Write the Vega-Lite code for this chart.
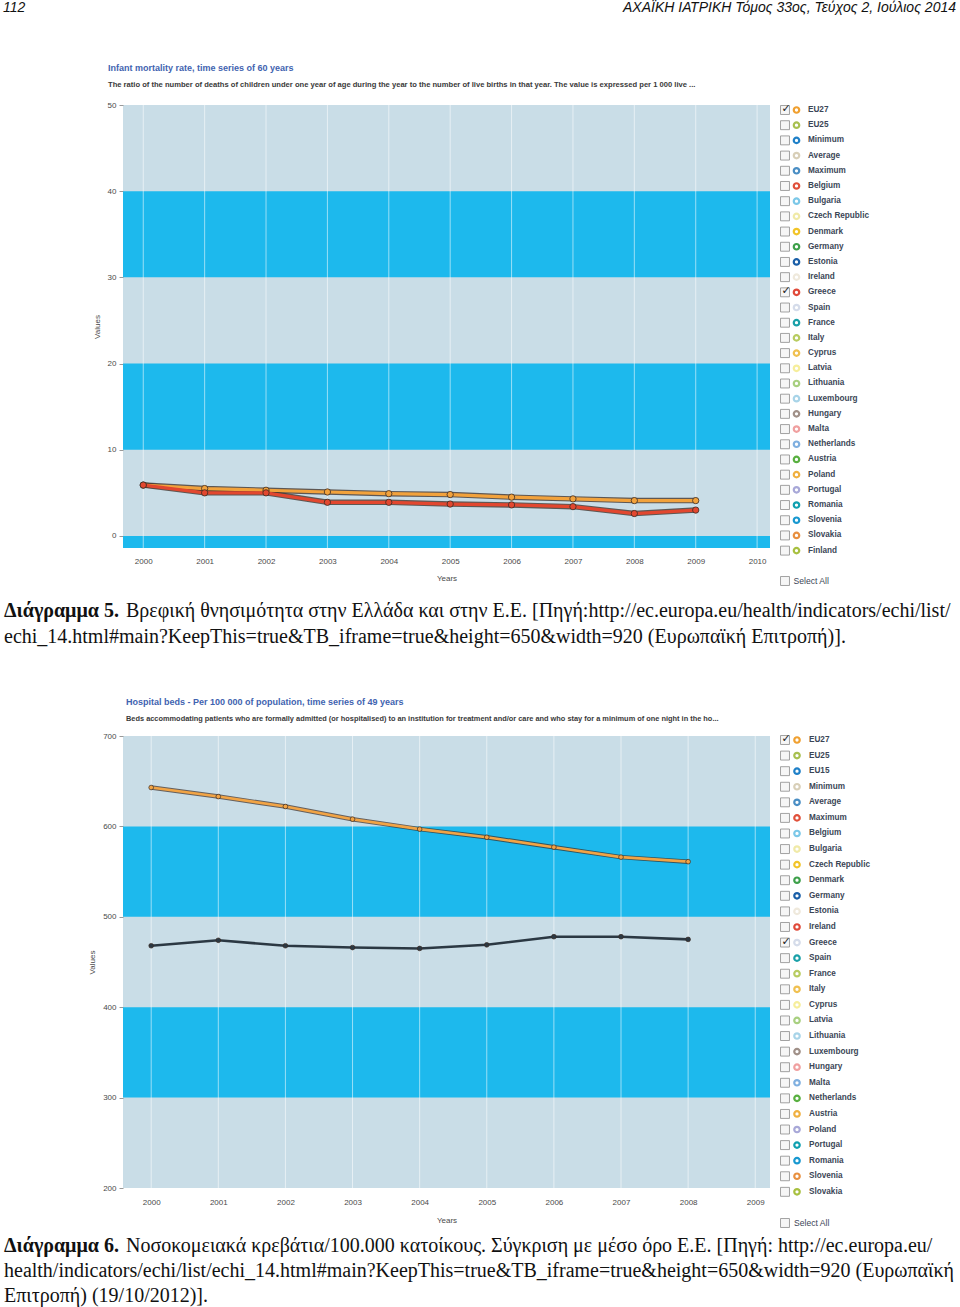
{
  "$schema": "https://vega.github.io/schema/vega-lite/v6.json",
  "padding": 0,
  "autosize": {"type": "pad"},
  "background": "#ffffff",
  "columns": 3,
  "align": "each",
  "bounds": "flush",
  "spacing": 0,
  "config": {
    "view": {"stroke": null},
    "font": "Liberation Sans",
    "axis": {"grid": false, "domain": false, "labelFontSize": 8, "labelColor": "#4a4a4a", "titleFontSize": 8, "titleColor": "#4a4a4a", "titleFontWeight": "normal"},
    "axisX": {"ticks": false, "labelPadding": 9, "titlePadding": 9},
    "axisY": {"ticks": true, "tickSize": 4, "tickColor": "#999999", "labelPadding": 3, "titlePadding": 6}
  },
  "resolve": {"scale": {"color": "independent", "stroke": "independent"}},
  "concat": [
    {
      "width": 123, "height": 105,
      "data": {"values": [{"text": "112"}]},
      "mark": {"type": "text", "align": "left", "baseline": "middle", "dx": 3, "font": "Liberation Sans", "fontSize": 14, "fontStyle": "italic", "color": "#111111"},
      "encoding": {
        "x": {"datum": 0, "type": "quantitative", "scale": {"domain": [0, 1], "nice": false, "zero": false}, "axis": null},
        "y": {"datum": 8, "type": "quantitative", "scale": {"domain": [105, 0], "nice": false, "zero": false}, "axis": null},
        "text": {"field": "text"}
      }
    },
    {"width": 647, "height": 105, "data": {"values": []}, "mark": "point"},
    {
      "width": 188, "height": 105,
      "data": {"values": [{"text": "ΑΧΑΪΚΗ ΙΑΤΡΙΚΗ Τόμος 33ος, Τεύχος 2, Ιούλιος 2014"}]},
      "mark": {"type": "text", "align": "right", "baseline": "middle", "dx": -2, "font": "Liberation Sans", "fontSize": 14, "fontStyle": "italic", "color": "#111111"},
      "encoding": {
        "x": {"datum": 1, "type": "quantitative", "scale": {"domain": [0, 1], "nice": false, "zero": false}, "axis": null},
        "y": {"datum": 8, "type": "quantitative", "scale": {"domain": [105, 0], "nice": false, "zero": false}, "axis": null},
        "text": {"field": "text"}
      }
    },

    {"width": 123, "height": 443, "data": {"values": []}, "mark": "point"},
    {
      "width": 647, "height": 443,
      "view": {"fill": "#c9dde7", "stroke": null},
      "title": {
        "text": "Infant mortality rate, time series of 60 years",
        "subtitle": "The ratio of the number of deaths of children under one year of age during the year to the number of live births in that year. The value is expressed per 1 000 live ...",
        "anchor": "start", "frame": "group", "dx": -15, "offset": 12,
        "font": "Liberation Sans", "fontSize": 9, "fontWeight": "bold", "color": "#3f63b0",
        "subtitleFont": "Liberation Sans", "subtitleFontSize": 7.6, "subtitleFontWeight": "bold", "subtitleColor": "#3a3a3a", "subtitlePadding": 8
      },
      "data": {"values": [
        {"year": 2000, "series": "EU27", "value": 5.9},
        {"year": 2001, "series": "EU27", "value": 5.5},
        {"year": 2002, "series": "EU27", "value": 5.3},
        {"year": 2003, "series": "EU27", "value": 5.1},
        {"year": 2004, "series": "EU27", "value": 4.9},
        {"year": 2005, "series": "EU27", "value": 4.8},
        {"year": 2006, "series": "EU27", "value": 4.5},
        {"year": 2007, "series": "EU27", "value": 4.3},
        {"year": 2008, "series": "EU27", "value": 4.1},
        {"year": 2009, "series": "EU27", "value": 4.1},
        {"year": 2000, "series": "Greece", "value": 5.9},
        {"year": 2001, "series": "Greece", "value": 5.0},
        {"year": 2002, "series": "Greece", "value": 5.0},
        {"year": 2003, "series": "Greece", "value": 3.9},
        {"year": 2004, "series": "Greece", "value": 3.9},
        {"year": 2005, "series": "Greece", "value": 3.7},
        {"year": 2006, "series": "Greece", "value": 3.6},
        {"year": 2007, "series": "Greece", "value": 3.4},
        {"year": 2008, "series": "Greece", "value": 2.6},
        {"year": 2009, "series": "Greece", "value": 3.0}
      ]},
      "layer": [
        {
          "data": {"values": [{"from": -10, "to": 0}, {"from": 10, "to": 20}, {"from": 30, "to": 40}]},
          "mark": {"type": "rect", "color": "#1db9ed", "clip": true},
          "encoding": {
            "y": {"field": "from", "type": "quantitative", "scale": {"domain": [-1.4, 50], "nice": false, "zero": false}, "axis": {"values": [0, 10, 20, 30, 40, 50], "title": "Values"}},
            "y2": {"field": "to"}
          }
        },
        {
          "data": {"values": [{"year": 2000}, {"year": 2001}, {"year": 2002}, {"year": 2003}, {"year": 2004}, {"year": 2005}, {"year": 2006}, {"year": 2007}, {"year": 2008}, {"year": 2009}, {"year": 2010}]},
          "mark": {"type": "rule", "color": "#ffffff", "opacity": 0.55, "strokeWidth": 1},
          "encoding": {
            "x": {"field": "year", "type": "quantitative", "scale": {"domain": [1999.67, 2010.21], "nice": false, "zero": false}, "axis": {"values": [2000, 2001, 2002, 2003, 2004, 2005, 2006, 2007, 2008, 2009, 2010], "format": "d", "title": "Years"}}
          }
        },
        {
          "mark": {"type": "line", "strokeWidth": 5.5, "color": "#3a2a22", "opacity": 0.75},
          "encoding": {
            "x": {"field": "year", "type": "quantitative", "scale": {"domain": [1999.67, 2010.21], "nice": false, "zero": false}, "axis": {"values": [2000, 2001, 2002, 2003, 2004, 2005, 2006, 2007, 2008, 2009, 2010], "format": "d", "title": "Years"}},
            "y": {"field": "value", "type": "quantitative", "scale": {"domain": [-1.4, 50], "nice": false, "zero": false}, "axis": {"values": [0, 10, 20, 30, 40, 50], "title": "Values"}},
            "detail": {"field": "series"}
          }
        },
        {
          "mark": {"type": "line", "strokeWidth": 3.2},
          "encoding": {
            "x": {"field": "year", "type": "quantitative", "scale": {"domain": [1999.67, 2010.21], "nice": false, "zero": false}, "axis": {"values": [2000, 2001, 2002, 2003, 2004, 2005, 2006, 2007, 2008, 2009, 2010], "format": "d", "title": "Years"}},
            "y": {"field": "value", "type": "quantitative", "scale": {"domain": [-1.4, 50], "nice": false, "zero": false}, "axis": {"values": [0, 10, 20, 30, 40, 50], "title": "Values"}},
            "color": {"field": "series", "type": "nominal", "scale": {"domain": ["EU27", "Greece"], "range": ["#f2a23c", "#e2472f"]}, "legend": null}
          }
        },
        {
          "mark": {"type": "point", "filled": true, "size": 40, "stroke": "#3a2a22", "strokeWidth": 0.8, "opacity": 1},
          "encoding": {
            "x": {"field": "year", "type": "quantitative", "scale": {"domain": [1999.67, 2010.21], "nice": false, "zero": false}, "axis": {"values": [2000, 2001, 2002, 2003, 2004, 2005, 2006, 2007, 2008, 2009, 2010], "format": "d", "title": "Years"}},
            "y": {"field": "value", "type": "quantitative", "scale": {"domain": [-1.4, 50], "nice": false, "zero": false}, "axis": {"values": [0, 10, 20, 30, 40, 50], "title": "Values"}},
            "color": {"field": "series", "type": "nominal", "scale": {"domain": ["EU27", "Greece"], "range": ["#f2a23c", "#e2472f"]}, "legend": null}
          }
        }
      ]
    },
    {
      "width": 188, "height": 443,
      "data": {"values": [
        {"name": "EU27", "checked": true}, {"name": "EU25", "checked": false}, {"name": "Minimum", "checked": false},
        {"name": "Average", "checked": false}, {"name": "Maximum", "checked": false}, {"name": "Belgium", "checked": false},
        {"name": "Bulgaria", "checked": false}, {"name": "Czech Republic", "checked": false}, {"name": "Denmark", "checked": false},
        {"name": "Germany", "checked": false}, {"name": "Estonia", "checked": false}, {"name": "Ireland", "checked": false},
        {"name": "Greece", "checked": true}, {"name": "Spain", "checked": false}, {"name": "France", "checked": false},
        {"name": "Italy", "checked": false}, {"name": "Cyprus", "checked": false}, {"name": "Latvia", "checked": false},
        {"name": "Lithuania", "checked": false}, {"name": "Luxembourg", "checked": false}, {"name": "Hungary", "checked": false},
        {"name": "Malta", "checked": false}, {"name": "Netherlands", "checked": false}, {"name": "Austria", "checked": false},
        {"name": "Poland", "checked": false}, {"name": "Portugal", "checked": false}, {"name": "Romania", "checked": false},
        {"name": "Slovenia", "checked": false}, {"name": "Slovakia", "checked": false}, {"name": "Finland", "checked": false},
        {"name": "Select All", "checked": false}
      ]},
      "encoding": {
        "y": {"field": "name", "type": "nominal", "scale": {"type": "point", "padding": 0, "range": [5, 476],
          "domain": ["EU27", "EU25", "Minimum", "Average", "Maximum", "Belgium", "Bulgaria", "Czech Republic", "Denmark", "Germany", "Estonia", "Ireland", "Greece", "Spain", "France", "Italy", "Cyprus", "Latvia", "Lithuania", "Luxembourg", "Hungary", "Malta", "Netherlands", "Austria", "Poland", "Portugal", "Romania", "Slovenia", "Slovakia", "Finland", "_gap", "Select All"]}, "axis": null}
      },
      "layer": [
        {
          "mark": {"type": "point", "shape": "square", "size": 80, "filled": true, "fill": "#f6f6f6", "stroke": "#8c8c8c", "strokeWidth": 0.8, "opacity": 1},
          "encoding": {"x": {"datum": "box", "type": "nominal", "scale": {"type": "point", "domain": ["box", "dot", "label"], "range": [15, 38], "padding": 0}, "axis": null}}
        },
        {
          "transform": [{"filter": "datum.checked"}],
          "mark": {"type": "text", "text": "✓", "font": "DejaVu Sans", "fontSize": 11, "fontWeight": "bold", "color": "#222222", "dx": 1, "dy": -1},
          "encoding": {"x": {"datum": "box", "type": "nominal", "scale": {"type": "point", "domain": ["box", "dot", "label"], "range": [15, 38], "padding": 0}, "axis": null}}
        },
        {
          "transform": [{"filter": "datum.name !== 'Select All'"}],
          "mark": {"type": "point", "shape": "circle", "size": 30, "filled": false, "fill": "#ffffff", "strokeWidth": 2.2, "opacity": 1},
          "encoding": {
            "x": {"datum": "dot", "type": "nominal", "scale": {"type": "point", "domain": ["box", "dot", "label"], "range": [15, 38], "padding": 0}, "axis": null},
            "stroke": {"field": "name", "type": "nominal", "legend": null, "scale": {
              "domain": ["EU27", "EU25", "Minimum", "Average", "Maximum", "Belgium", "Bulgaria", "Czech Republic", "Denmark", "Germany", "Estonia", "Ireland", "Greece", "Spain", "France", "Italy", "Cyprus", "Latvia", "Lithuania", "Luxembourg", "Hungary", "Malta", "Netherlands", "Austria", "Poland", "Portugal", "Romania", "Slovenia", "Slovakia", "Finland"],
              "range": ["#f0a030", "#a8c050", "#1f80c8", "#d8cfb8", "#4a8ec4", "#e0503a", "#7cc8e8", "#f0eaa8", "#f2c428", "#3da04a", "#1a5fa8", "#efe9dc", "#e04a3a", "#d5dcea", "#1aa0a8", "#b8cc60", "#f0c050", "#f6ee9c", "#a8d080", "#a8d4e8", "#a09088", "#f0a0a0", "#80b0e0", "#58b040", "#f0b040", "#a8a8d8", "#10a0b0", "#1898d0", "#e89040", "#a8c040"]}}
          }
        },
        {
          "transform": [{"filter": "datum.name !== 'Select All'"}],
          "mark": {"type": "text", "align": "left", "baseline": "middle", "font": "Liberation Sans", "fontSize": 8.2, "fontWeight": "bold", "color": "#3b4656"},
          "encoding": {
            "x": {"datum": "label", "type": "nominal", "scale": {"type": "point", "domain": ["box", "dot", "label"], "range": [15, 38], "padding": 0}, "axis": null},
            "text": {"field": "name"}
          }
        },
        {
          "transform": [{"filter": "datum.name === 'Select All'"}],
          "mark": {"type": "text", "align": "left", "baseline": "middle", "dx": -3, "font": "Liberation Sans", "fontSize": 8.6, "color": "#3b4656"},
          "encoding": {
            "x": {"datum": "dot", "type": "nominal", "scale": {"type": "point", "domain": ["box", "dot", "label"], "range": [15, 38], "padding": 0}, "axis": null},
            "text": {"field": "name"}
          }
        }
      ]
    },

    {
      "width": 123, "height": 188,
      "data": {"values": [
        {"line": "1", "bold": "Διάγραμμα 5.", "text": "Βρεφική θνησιμότητα στην Ελλάδα και στην Ε.Ε. [Πηγή:http://ec.europa.eu/health/indicators/echi/list/"},
        {"line": "2", "bold": "", "text": "echi_14.html#main?KeepThis=true&TB_iframe=true&height=650&width=920 (Ευρωπαϊκή Επιτροπή)]."}
      ]},
      "encoding": {
        "x": {"datum": 0, "type": "quantitative", "scale": {"domain": [0, 1], "nice": false, "zero": false}, "axis": null},
        "y": {"field": "line", "type": "ordinal", "scale": {"type": "point", "domain": ["1", "2"], "range": [63, 89], "padding": 0}, "axis": null}
      },
      "layer": [
        {"transform": [{"filter": "datum.bold !== ''"}], "mark": {"type": "text", "align": "left", "baseline": "middle", "dx": 4, "font": "Liberation Serif", "fontSize": 20, "fontWeight": "bold", "color": "#111111"}, "encoding": {"text": {"field": "bold"}}},
        {"transform": [{"filter": "datum.bold !== ''"}], "mark": {"type": "text", "align": "left", "baseline": "middle", "dx": 126, "font": "Liberation Serif", "fontSize": 20, "color": "#111111"}, "encoding": {"text": {"field": "text"}}},
        {"transform": [{"filter": "datum.bold === ''"}], "mark": {"type": "text", "align": "left", "baseline": "middle", "dx": 4, "font": "Liberation Serif", "fontSize": 20, "color": "#111111"}, "encoding": {"text": {"field": "text"}}}
      ]
    },
    {"width": 647, "height": 188, "data": {"values": []}, "mark": "point"},
    {"width": 188, "height": 188, "data": {"values": []}, "mark": "point"},

    {"width": 123, "height": 452, "data": {"values": []}, "mark": "point"},
    {
      "width": 647, "height": 452,
      "view": {"fill": "#c9dde7", "stroke": null},
      "title": {
        "text": "Hospital beds - Per 100 000 of population, time series of 49 years",
        "subtitle": "Beds accommodating patients who are formally admitted (or hospitalised) to an institution for treatment and/or care and who stay for a minimum of one night in the ho...",
        "anchor": "start", "frame": "group", "dx": 3, "offset": 10,
        "font": "Liberation Sans", "fontSize": 9, "fontWeight": "bold", "color": "#3f63b0",
        "subtitleFont": "Liberation Sans", "subtitleFontSize": 7.4, "subtitleFontWeight": "bold", "subtitleColor": "#3a3a3a", "subtitlePadding": 8
      },
      "data": {"values": [
        {"year": 2000, "series": "EU27", "value": 643},
        {"year": 2001, "series": "EU27", "value": 633},
        {"year": 2002, "series": "EU27", "value": 622},
        {"year": 2003, "series": "EU27", "value": 608},
        {"year": 2004, "series": "EU27", "value": 597},
        {"year": 2005, "series": "EU27", "value": 588},
        {"year": 2006, "series": "EU27", "value": 577},
        {"year": 2007, "series": "EU27", "value": 566},
        {"year": 2008, "series": "EU27", "value": 561},
        {"year": 2000, "series": "Greece", "value": 468},
        {"year": 2001, "series": "Greece", "value": 474},
        {"year": 2002, "series": "Greece", "value": 468},
        {"year": 2003, "series": "Greece", "value": 466},
        {"year": 2004, "series": "Greece", "value": 465},
        {"year": 2005, "series": "Greece", "value": 469},
        {"year": 2006, "series": "Greece", "value": 478},
        {"year": 2007, "series": "Greece", "value": 478},
        {"year": 2008, "series": "Greece", "value": 475}
      ]},
      "layer": [
        {
          "data": {"values": [{"from": 300, "to": 400}, {"from": 500, "to": 600}]},
          "mark": {"type": "rect", "color": "#1db9ed", "clip": true},
          "encoding": {
            "y": {"field": "from", "type": "quantitative", "scale": {"domain": [200, 700], "nice": false, "zero": false}, "axis": {"values": [200, 300, 400, 500, 600, 700], "title": "Values"}},
            "y2": {"field": "to"}
          }
        },
        {
          "data": {"values": [{"year": 2000}, {"year": 2001}, {"year": 2002}, {"year": 2003}, {"year": 2004}, {"year": 2005}, {"year": 2006}, {"year": 2007}, {"year": 2008}, {"year": 2009}]},
          "mark": {"type": "rule", "color": "#ffffff", "opacity": 0.55, "strokeWidth": 1},
          "encoding": {
            "x": {"field": "year", "type": "quantitative", "scale": {"domain": [1999.58, 2009.22], "nice": false, "zero": false}, "axis": {"values": [2000, 2001, 2002, 2003, 2004, 2005, 2006, 2007, 2008, 2009], "format": "d", "title": "Years", "labelPadding": 10, "titlePadding": 10}}
          }
        },
        {
          "transform": [{"filter": "datum.series === 'EU27'"}],
          "mark": {"type": "line", "strokeWidth": 4.5, "color": "#3a2a22", "opacity": 0.7},
          "encoding": {
            "x": {"field": "year", "type": "quantitative", "scale": {"domain": [1999.58, 2009.22], "nice": false, "zero": false}, "axis": {"values": [2000, 2001, 2002, 2003, 2004, 2005, 2006, 2007, 2008, 2009], "format": "d", "title": "Years", "labelPadding": 10, "titlePadding": 10}},
            "y": {"field": "value", "type": "quantitative", "scale": {"domain": [200, 700], "nice": false, "zero": false}, "axis": {"values": [200, 300, 400, 500, 600, 700], "title": "Values"}}
          }
        },
        {
          "mark": {"type": "line", "strokeWidth": 2.6},
          "encoding": {
            "x": {"field": "year", "type": "quantitative", "scale": {"domain": [1999.58, 2009.22], "nice": false, "zero": false}, "axis": {"values": [2000, 2001, 2002, 2003, 2004, 2005, 2006, 2007, 2008, 2009], "format": "d", "title": "Years", "labelPadding": 10, "titlePadding": 10}},
            "y": {"field": "value", "type": "quantitative", "scale": {"domain": [200, 700], "nice": false, "zero": false}, "axis": {"values": [200, 300, 400, 500, 600, 700], "title": "Values"}},
            "color": {"field": "series", "type": "nominal", "scale": {"domain": ["EU27", "Greece"], "range": ["#f2a445", "#2b3843"]}, "legend": null}
          }
        },
        {
          "mark": {"type": "point", "filled": true, "size": 22, "stroke": "#3a2a22", "strokeWidth": 0.7, "opacity": 1},
          "encoding": {
            "x": {"field": "year", "type": "quantitative", "scale": {"domain": [1999.58, 2009.22], "nice": false, "zero": false}, "axis": {"values": [2000, 2001, 2002, 2003, 2004, 2005, 2006, 2007, 2008, 2009], "format": "d", "title": "Years", "labelPadding": 10, "titlePadding": 10}},
            "y": {"field": "value", "type": "quantitative", "scale": {"domain": [200, 700], "nice": false, "zero": false}, "axis": {"values": [200, 300, 400, 500, 600, 700], "title": "Values"}},
            "color": {"field": "series", "type": "nominal", "scale": {"domain": ["EU27", "Greece"], "range": ["#f2a445", "#2b3843"]}, "legend": null}
          }
        }
      ]
    },
    {
      "width": 188, "height": 452,
      "data": {"values": [
        {"name": "EU27", "checked": true}, {"name": "EU25", "checked": false}, {"name": "EU15", "checked": false},
        {"name": "Minimum", "checked": false}, {"name": "Average", "checked": false}, {"name": "Maximum", "checked": false},
        {"name": "Belgium", "checked": false}, {"name": "Bulgaria", "checked": false}, {"name": "Czech Republic", "checked": false},
        {"name": "Denmark", "checked": false}, {"name": "Germany", "checked": false}, {"name": "Estonia", "checked": false},
        {"name": "Ireland", "checked": false}, {"name": "Greece", "checked": true}, {"name": "Spain", "checked": false},
        {"name": "France", "checked": false}, {"name": "Italy", "checked": false}, {"name": "Cyprus", "checked": false},
        {"name": "Latvia", "checked": false}, {"name": "Lithuania", "checked": false}, {"name": "Luxembourg", "checked": false},
        {"name": "Hungary", "checked": false}, {"name": "Malta", "checked": false}, {"name": "Netherlands", "checked": false},
        {"name": "Austria", "checked": false}, {"name": "Poland", "checked": false}, {"name": "Portugal", "checked": false},
        {"name": "Romania", "checked": false}, {"name": "Slovenia", "checked": false}, {"name": "Slovakia", "checked": false},
        {"name": "Select All", "checked": false}
      ]},
      "encoding": {
        "y": {"field": "name", "type": "nominal", "scale": {"type": "point", "padding": 0, "range": [4, 487],
          "domain": ["EU27", "EU25", "EU15", "Minimum", "Average", "Maximum", "Belgium", "Bulgaria", "Czech Republic", "Denmark", "Germany", "Estonia", "Ireland", "Greece", "Spain", "France", "Italy", "Cyprus", "Latvia", "Lithuania", "Luxembourg", "Hungary", "Malta", "Netherlands", "Austria", "Poland", "Portugal", "Romania", "Slovenia", "Slovakia", "_gap", "Select All"]}, "axis": null}
      },
      "layer": [
        {
          "mark": {"type": "point", "shape": "square", "size": 80, "filled": true, "fill": "#f6f6f6", "stroke": "#8c8c8c", "strokeWidth": 0.8, "opacity": 1},
          "encoding": {"x": {"datum": "box", "type": "nominal", "scale": {"type": "point", "domain": ["box", "dot", "label"], "range": [15, 39], "padding": 0}, "axis": null}}
        },
        {
          "transform": [{"filter": "datum.checked"}],
          "mark": {"type": "text", "text": "✓", "font": "DejaVu Sans", "fontSize": 11, "fontWeight": "bold", "color": "#222222", "dx": 1, "dy": -1},
          "encoding": {"x": {"datum": "box", "type": "nominal", "scale": {"type": "point", "domain": ["box", "dot", "label"], "range": [15, 39], "padding": 0}, "axis": null}}
        },
        {
          "transform": [{"filter": "datum.name !== 'Select All'"}],
          "mark": {"type": "point", "shape": "circle", "size": 30, "filled": false, "fill": "#ffffff", "strokeWidth": 2.2, "opacity": 1},
          "encoding": {
            "x": {"datum": "dot", "type": "nominal", "scale": {"type": "point", "domain": ["box", "dot", "label"], "range": [15, 39], "padding": 0}, "axis": null},
            "stroke": {"field": "name", "type": "nominal", "legend": null, "scale": {
              "domain": ["EU27", "EU25", "EU15", "Minimum", "Average", "Maximum", "Belgium", "Bulgaria", "Czech Republic", "Denmark", "Germany", "Estonia", "Ireland", "Greece", "Spain", "France", "Italy", "Cyprus", "Latvia", "Lithuania", "Luxembourg", "Hungary", "Malta", "Netherlands", "Austria", "Poland", "Portugal", "Romania", "Slovenia", "Slovakia"],
              "range": ["#f0a030", "#a8c050", "#1f80c8", "#d8cfb8", "#4a8ec4", "#e0503a", "#7cc8e8", "#f0eaa8", "#f2c428", "#3da04a", "#1a5fa8", "#efe9dc", "#e04a3a", "#d5dcea", "#1aa0a8", "#b8cc60", "#f0c050", "#f6ee9c", "#a8d080", "#a8d4e8", "#a09088", "#f0a0a0", "#80b0e0", "#58b040", "#f0b040", "#a8a8d8", "#10a0b0", "#1898d0", "#e89040", "#a8c040"]}}
          }
        },
        {
          "transform": [{"filter": "datum.name !== 'Select All'"}],
          "mark": {"type": "text", "align": "left", "baseline": "middle", "font": "Liberation Sans", "fontSize": 8.2, "fontWeight": "bold", "color": "#3b4656"},
          "encoding": {
            "x": {"datum": "label", "type": "nominal", "scale": {"type": "point", "domain": ["box", "dot", "label"], "range": [15, 39], "padding": 0}, "axis": null},
            "text": {"field": "name"}
          }
        },
        {
          "transform": [{"filter": "datum.name === 'Select All'"}],
          "mark": {"type": "text", "align": "left", "baseline": "middle", "dx": -3, "font": "Liberation Sans", "fontSize": 8.6, "color": "#3b4656"},
          "encoding": {
            "x": {"datum": "dot", "type": "nominal", "scale": {"type": "point", "domain": ["box", "dot", "label"], "range": [15, 39], "padding": 0}, "axis": null},
            "text": {"field": "name"}
          }
        }
      ]
    },

    {
      "width": 123, "height": 119,
      "data": {"values": [
        {"line": "1", "bold": "Διάγραμμα 6.", "text": "Νοσοκομειακά κρεβάτια/100.000 κατοίκους. Σύγκριση με μέσο όρο Ε.Ε. [Πηγή: http://ec.europa.eu/"},
        {"line": "2", "bold": "", "text": "health/indicators/echi/list/echi_14.html#main?KeepThis=true&TB_iframe=true&height=650&width=920 (Ευρωπαϊκή"},
        {"line": "3", "bold": "", "text": "Επιτροπή) (19/10/2012)]."}
      ]},
      "encoding": {
        "x": {"datum": 0, "type": "quantitative", "scale": {"domain": [0, 1], "nice": false, "zero": false}, "axis": null},
        "y": {"field": "line", "type": "ordinal", "scale": {"type": "point", "domain": ["1", "2", "3"], "range": [58, 108], "padding": 0}, "axis": null}
      },
      "layer": [
        {"transform": [{"filter": "datum.bold !== ''"}], "mark": {"type": "text", "align": "left", "baseline": "middle", "dx": 4, "font": "Liberation Serif", "fontSize": 20, "fontWeight": "bold", "color": "#111111"}, "encoding": {"text": {"field": "bold"}}},
        {"transform": [{"filter": "datum.bold !== ''"}], "mark": {"type": "text", "align": "left", "baseline": "middle", "dx": 126, "font": "Liberation Serif", "fontSize": 20, "color": "#111111"}, "encoding": {"text": {"field": "text"}}},
        {"transform": [{"filter": "datum.bold === ''"}], "mark": {"type": "text", "align": "left", "baseline": "middle", "dx": 4, "font": "Liberation Serif", "fontSize": 20, "color": "#111111"}, "encoding": {"text": {"field": "text"}}}
      ]
    },
    {"width": 647, "height": 119, "data": {"values": []}, "mark": "point"},
    {"width": 188, "height": 119, "data": {"values": []}, "mark": "point"}
  ]
}
